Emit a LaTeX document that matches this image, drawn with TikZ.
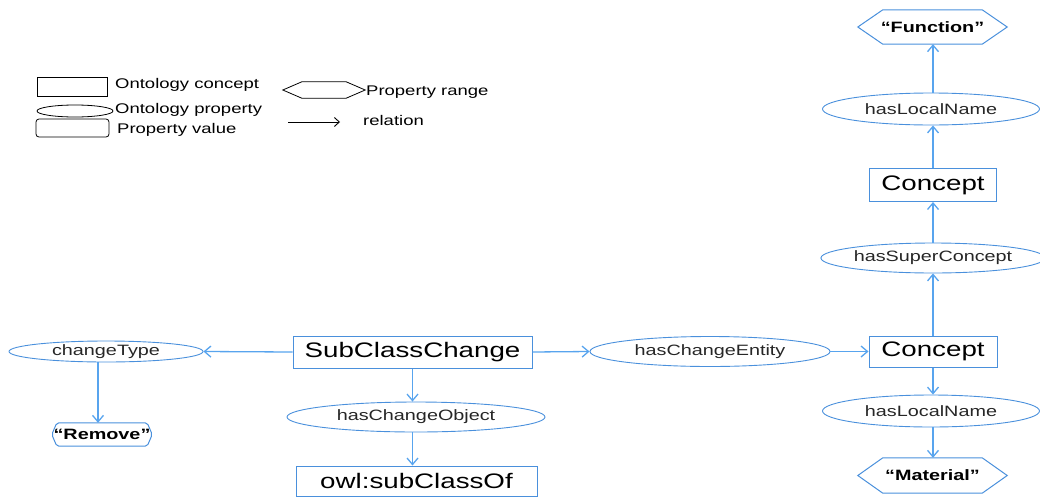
\documentclass[tikz,border=0pt]{standalone}
\usepackage{fontspec}
\setmainfont{Liberation Sans}
\usepackage{graphicx}
\usetikzlibrary{arrows.meta,shapes.geometric}
\definecolor{bx}{RGB}{74,144,220}
\definecolor{ar}{RGB}{88,164,238}
\newcommand{\hs}[1]{\scalebox{1.32}[1]{#1}}
\newcommand{\hexdraw}[3]{\draw[#3] (#1.west) -- ([xshift=#2]#1.north west) -- ([xshift=-#2]#1.north east) -- (#1.east) -- ([xshift=-#2]#1.south east) -- ([xshift=#2]#1.south west) -- cycle;}
\tikzset{
  conc/.style={draw=bx, line width=1pt, inner sep=0pt, font=\fontsize{21}{21}\selectfont, text=black},
  prop/.style={ellipse, draw=bx, line width=0.9pt, inner sep=0pt, font=\fontsize{15}{15}\selectfont, text=black!85},
  val/.style={inner sep=0pt, font=\bfseries\fontsize{15}{15}\selectfont, text=black},
  arr/.style={draw=ar, line width=1.3pt, -{Straight Barb[length=6.5pt,width=11pt]}},
  legtxt/.style={anchor=west, inner sep=0pt, font=\fontsize{14}{14}\selectfont, text=black},
  legshape/.style={draw=black, line width=0.8pt, inner sep=0pt},
}
\begin{document}
\begin{tikzpicture}[x=1pt,y=-1pt]
\useasboundingbox (0,0) rectangle (1040,498);
% legend
\node[legshape, minimum width=70pt, minimum height=19pt] (lrect) at (72,86.5) {};
\node[legshape, ellipse, minimum width=76pt, minimum height=12pt] (lell) at (75,111) {};
\node[legshape, rounded corners=3pt, minimum width=73pt, minimum height=18pt] (lval) at (72.5,128) {};
\node[legtxt] (tconc) at (115,85) {\hs{Ontology concept}};
\node[legtxt] (tprop) at (115,110) {\hs{Ontology property}};
\node[legtxt] (tval) at (117,130) {\hs{Property value}};
\node[inner sep=0pt, minimum width=82pt, minimum height=16pt] (lhex) at (324,90) {};
\hexdraw{lhex}{19pt}{black, line width=0.8pt}
\node[legtxt] (trange) at (366,92) {\hs{Property range}};
\coordinate (la) at (288,122);
\coordinate (lb) at (340,122);
\draw[black, line width=0.9pt, -{Straight Barb[length=5pt,width=9pt]}] (la) -- (lb);
\node[legtxt] (trel) at (363,120) {\hs{relation}};
% main nodes
\node[conc, minimum width=239pt, minimum height=32pt] (scc) at (412.5,352) {\hs{SubClassChange}};
\node[conc, minimum width=241pt, minimum height=30pt] (owl) at (416.5,481) {\hs{owl:subClassOf}};
\node[prop, minimum width=240pt, minimum height=30pt] (hce) at (710,351.5) {\hs{hasChangeEntity}};
\node[prop, minimum width=258pt, minimum height=30pt] (hco) at (416,417) {\hs{hasChangeObject}};
\node[prop, minimum width=194pt, minimum height=21pt] (ct) at (106,351.5) {\hs{changeType}};
\node[val, minimum width=100pt, minimum height=23pt] (rem) at (102,434.5) {\hs{“Remove”}};
\hexdraw{rem}{5pt}{draw=bx, line width=1pt, rounded corners=2pt}
\node[conc, minimum width=128pt, minimum height=31pt] (cmid) at (933,351.5) {\hs{Concept}};
\node[conc, minimum width=127pt, minimum height=33pt] (ctop) at (933,185) {\hs{Concept}};
\node[prop, minimum width=217pt, minimum height=32pt] (hlnt) at (931,109) {\hs{hasLocalName}};
\node[prop, minimum width=208pt, minimum height=30pt] (hsc) at (933,258) {\hs{hasSuperConcept}};
\node[prop, minimum width=217pt, minimum height=32pt] (hlnb) at (931,411) {\hs{hasLocalName}};
\node[val, minimum width=149pt, minimum height=34pt] (func) at (932.5,27) {\hs{“Function”}};
\hexdraw{func}{25pt}{draw=bx, line width=1pt}
\node[val, minimum width=149pt, minimum height=35pt] (mat) at (932.5,475.5) {\hs{“Material”}};
\hexdraw{mat}{25pt}{draw=bx, line width=1pt}
% connectors
\draw[arr] (scc.west) -- (ct.east);
\draw[arr] (scc.east) -- (hce.west);
\draw[arr] (hce.east) -- (cmid.west);
\draw[arr] (scc.south) -- (scc.south |- hco.north);
\draw[arr] (hco.south -| scc.south) -- (owl.north -| scc.south);
\draw[arr] ([xshift=-8pt]ct.south) -- ([xshift=-4pt]rem.north);
\draw[arr] (cmid.north) -- (hsc.south -| cmid.north);
\draw[arr] (hsc.north -| cmid.north) -- (ctop.south);
\draw[arr] (ctop.north) -- (hlnt.south -| ctop.north);
\draw[arr] (hlnt.north -| ctop.north) -- (func.south -| ctop.north);
\draw[arr] (cmid.south) -- (hlnb.north -| cmid.south);
\draw[arr] (hlnb.south -| cmid.south) -- (mat.north -| cmid.south);
\end{tikzpicture}
\end{document}
